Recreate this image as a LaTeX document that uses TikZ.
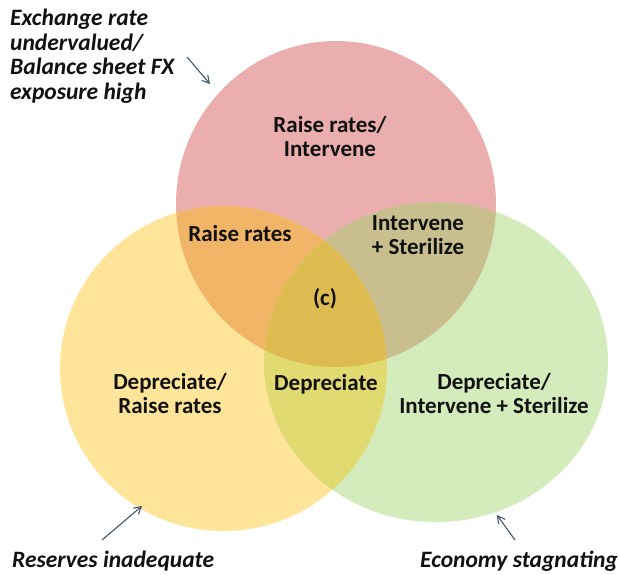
\documentclass[tikz,border=0pt]{standalone}
\usepackage{fontspec}
\setmainfont{Carlito}
\usetikzlibrary{arrows.meta}
\definecolor{cred}{HTML}{EAAEAE}
\definecolor{cyel}{HTML}{FFE49A}
\definecolor{cgre}{HTML}{D4EBBC}
\definecolor{cry}{HTML}{F0B566}
\definecolor{crg}{HTML}{C8BE8E}
\definecolor{cyg}{HTML}{E0DA70}
\definecolor{cryg}{HTML}{DDBB50}
\definecolor{ctxt}{HTML}{111111}
\definecolor{carrow}{HTML}{44546A}
\tikzset{
  lbl/.style={font=\bfseries\fontsize{23}{24}\selectfont, text=ctxt, align=center, anchor=base, inner sep=0pt},
  outlbl/.style={font=\bfseries\itshape\fontsize{23.5}{24.5}\selectfont, text=ctxt, align=left, anchor=base west, inner sep=0pt},
  pointer/.style={draw=carrow, line width=1.1pt, -{Straight Barb[length=7pt,width=8pt]}}
}
\begin{document}
\begin{tikzpicture}[x=1pt,y=-1pt]
\useasboundingbox (0,0) rectangle (619,574);
% base circles
\fill[cred] (336,204) ellipse [x radius=160pt, y radius=163pt];
\fill[cyel] (223.5,368.5) ellipse [x radius=163.5pt, y radius=162.5pt];
\fill[cgre] (436,362) ellipse [x radius=172pt, y radius=160pt];
% overlaps
\begin{scope}
  \clip (336,204) ellipse [x radius=160pt, y radius=163pt];
  \fill[cry] (223.5,368.5) ellipse [x radius=163.5pt, y radius=162.5pt];
\end{scope}
\begin{scope}
  \clip (336,204) ellipse [x radius=160pt, y radius=163pt];
  \fill[crg] (436,362) ellipse [x radius=172pt, y radius=160pt];
\end{scope}
\begin{scope}
  \clip (223.5,368.5) ellipse [x radius=163.5pt, y radius=162.5pt];
  \fill[cyg] (436,362) ellipse [x radius=172pt, y radius=160pt];
\end{scope}
\begin{scope}
  \clip (336,204) ellipse [x radius=160pt, y radius=163pt];
  \clip (223.5,368.5) ellipse [x radius=163.5pt, y radius=162.5pt];
  \fill[cryg] (436,362) ellipse [x radius=172pt, y radius=160pt];
\end{scope}
% labels (multi-line: anchor base = last line's baseline)
\node[lbl] (top) at (330,156) {Raise rates/\\Intervene};
\node[lbl] (ry) at (240,241) {Raise rates};
\node[lbl] (rg) at (418,254) {Intervene\\+ Sterilize};
\node[lbl] (c) at (325,305) {(c)};
\node[lbl] (yg) at (326,390) {Depreciate};
\node[lbl] (yel) at (170,413) {Depreciate/\\Raise rates};
\node[lbl] (gre) at (494,413) {Depreciate/\\Intervene + Sterilize};
% outside labels
\node[outlbl] (exch) at (10,99) {Exchange rate\\undervalued/\\Balance sheet FX\\exposure high};
\node[outlbl] (res) at (12,567) {Reserves inadequate};
\node[outlbl] (eco) at (420,567) {Economy stagnating};
% pointers
\coordinate (p1s) at (187,57);
\coordinate (p1e) at (210,84);
\coordinate (p2s) at (102,540);
\coordinate (p2e) at (142,506);
\coordinate (p3s) at (515,540);
\coordinate (p3e) at (497,515);
\draw[pointer] (p1s) -- (p1e);
\draw[pointer] (p2s) -- (p2e);
\draw[pointer] (p3s) -- (p3e);
\end{tikzpicture}
\end{document}
